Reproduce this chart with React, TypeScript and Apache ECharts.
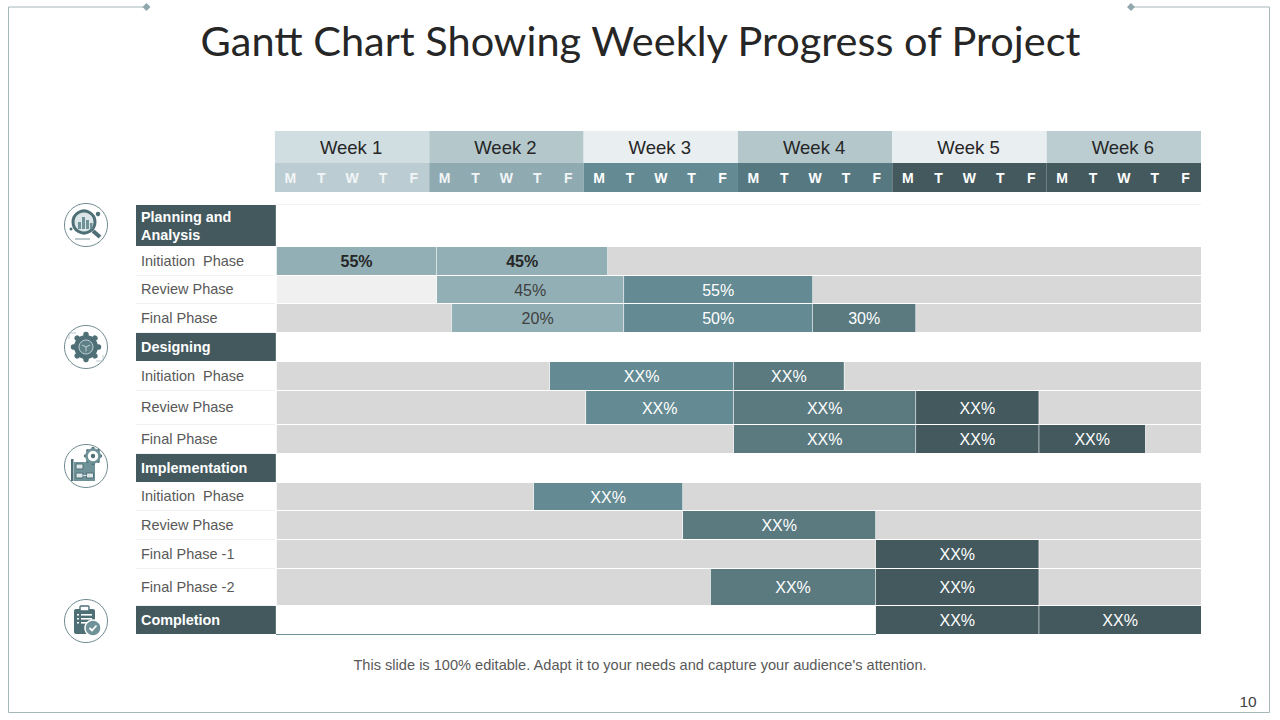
import React, { useEffect, useRef } from "react";
import * as echarts from "echarts";

const titleText = "Gantt Chart Showing Weekly Progress of Project";
const footerText = "This slide is 100% editable. Adapt it to your needs and capture your audience's attention.";
const pageNumber = "10";

const weeks = ["Week 1", "Week 2", "Week 3", "Week 4", "Week 5", "Week 6"];
const weekColors = ["#D1DEE1", "#B4C8CC", "#E9EEF1", "#B4C8CC", "#E9EEF1", "#BBCDD1"];
const weekDayColors = ["#BBCDD3", "#8FAAB1", "#648B93", "#567981", "#44595E", "#44595E"];
const dayNames = ["M", "T", "W", "T", "F"];

const rowNames = [
  "Planning and\nAnalysis", "Initiation  Phase", "Review Phase", "Final Phase",
  "Designing", "Initiation  Phase", "Review Phase", "Final Phase",
  "Implementation", "Initiation  Phase", "Review Phase", "Final Phase -1", "Final Phase -2",
  "Completion",
];
const sectionRows = [0, 4, 8, 13];
const rowSpans = [42, 29, 28, 29, 29, 29, 34, 29, 29, 28, 29, 29, 37, 29];
const headerSpans = [32, 29, 13];

// [row, start day, end day, label, tone]
const LIGHT = "#92AFB5", MID = "#648B93", DEEP = "#5A7A80", DARK = "#43595E";
const tasks: [number, number, number, string, string][] = [
  [1, 0.06, 5.23, "55%", LIGHT], [1, 5.25, 10.77, "45%", LIGHT],
  [2, 5.25, 11.29, "45%", LIGHT], [2, 11.31, 17.41, "55%", MID],
  [3, 5.73, 11.29, "20%", LIGHT], [3, 11.31, 17.41, "50%", MID], [3, 17.43, 20.75, "30%", DEEP],
  [5, 8.91, 14.85, "XX%", MID], [5, 14.87, 18.43, "XX%", DEEP],
  [6, 10.08, 14.85, "XX%", MID], [6, 14.87, 20.75, "XX%", DEEP], [6, 20.77, 24.74, "XX%", DARK],
  [7, 14.87, 20.75, "XX%", DEEP], [7, 20.77, 24.74, "XX%", DARK], [7, 24.76, 28.19, "XX%", DARK],
  [9, 8.39, 13.2, "XX%", MID],
  [10, 13.22, 19.45, "XX%", DEEP],
  [11, 19.47, 24.74, "XX%", DARK],
  [12, 14.12, 19.45, "XX%", DEEP], [12, 19.47, 24.74, "XX%", DARK],
  [13, 19.47, 24.74, "XX%", DARK], [13, 24.76, 30, "XX%", DARK],
];
// [row, start day, end day, fill]
const tracks: [number, number, number, string][] = [
  [1, 10.79, 30, "#D8D8D8"],
  [2, 0.06, 5.23, "#F0F0F0"], [2, 17.43, 30, "#D8D8D8"],
  [3, 0.06, 5.71, "#D8D8D8"], [3, 20.77, 30, "#D8D8D8"],
  [5, 0.06, 8.89, "#D8D8D8"], [5, 18.45, 30, "#D8D8D8"],
  [6, 0.06, 10.06, "#D8D8D8"], [6, 24.76, 30, "#D8D8D8"],
  [7, 0.06, 14.85, "#D8D8D8"], [7, 28.21, 30, "#D8D8D8"],
  [9, 0.06, 8.37, "#D8D8D8"], [9, 13.22, 30, "#D8D8D8"],
  [10, 0.06, 13.2, "#D8D8D8"], [10, 19.47, 30, "#D8D8D8"],
  [11, 0.06, 19.45, "#D8D8D8"], [11, 24.76, 30, "#D8D8D8"],
  [12, 0.06, 14.1, "#D8D8D8"], [12, 24.76, 30, "#D8D8D8"],
];

const headTotal = headerSpans[0] + headerSpans[1] + headerSpans[2];
const rowTops: number[] = [];
rowSpans.reduce((acc, h, i) => { rowTops[i] = acc; return acc + h; }, headTotal);
const total = headTotal + rowSpans.reduce((a, b) => a + b, 0);

const SANS = "'Liberation Sans', Arial, sans-serif";

function rectAt(api: any, x0: number, x1: number, y0: number, y1: number) {
  const a = api.coord([x0, y0]);
  const b = api.coord([x1, y1]);
  return { x: a[0], y: a[1], width: b[0] - a[0], height: b[1] - a[1] };
}

function gearTeeth(cx: number, cy: number, dist: number, size: number, fill: string) {
  const out: any[] = [];
  const dirs = [[0, -1], [0, 1], [-1, 0], [1, 0], [-0.71, -0.71], [0.71, -0.71], [-0.71, 0.71], [0.71, 0.71]];
  for (const [dx, dy] of dirs) {
    out.push({ type: "circle", shape: { cx: cx + dx * dist, cy: cy + dy * dist, r: size }, style: { fill } });
  }
  return out;
}

function iconChildren(kind: number, cx: number, cy: number): any[] {
  const c = "#4F6F76";
  const soft = "#6F9198";
  const base: any[] = [
    { type: "circle", shape: { cx, cy, r: 21.5 }, style: { fill: "#fff", stroke: "#6F8A90", lineWidth: 1 } },
  ];
  if (kind === 0) {
    base.push(
      { type: "line", shape: { x1: cx + 7, y1: cy + 6, x2: cx + 14, y2: cy + 12 }, style: { stroke: c, lineWidth: 4 } },
      { type: "circle", shape: { cx: cx - 2, cy: cy - 3, r: 11 }, style: { fill: "#DCE6E8", stroke: c, lineWidth: 3 } },
      { type: "rect", shape: { x: cx - 8, y: cy - 3, width: 3, height: 7 }, style: { fill: soft } },
      { type: "rect", shape: { x: cx - 4, y: cy - 8, width: 3, height: 12 }, style: { fill: soft } },
      { type: "rect", shape: { x: cx, y: cy - 5, width: 3, height: 9 }, style: { fill: soft } },
      { type: "rect", shape: { x: cx + 4, y: cy - 2, width: 2.5, height: 6 }, style: { fill: soft } },
      { type: "circle", shape: { cx: cx + 12, cy: cy - 11, r: 2.2 }, style: { fill: c } },
      { type: "circle", shape: { cx: cx - 15, cy: cy + 4, r: 1.5 }, style: { fill: c } },
      { type: "line", shape: { x1: cx - 11, y1: cy + 14, x2: cx + 4, y2: cy + 14 }, style: { stroke: "#8FA5AA", lineWidth: 1.2 } },
    );
  } else if (kind === 1) {
    base.push(
      { type: "polyline", shape: { points: [[cx - 17, cy - 8], [cx - 17, cy - 14], [cx - 10, cy - 14]] }, style: { fill: "none", stroke: "#A9BBBF", lineWidth: 0.8 } },
      { type: "polyline", shape: { points: [[cx + 17, cy + 8], [cx + 17, cy + 14], [cx + 10, cy + 14]] }, style: { fill: "none", stroke: "#A9BBBF", lineWidth: 0.8 } },
      ...gearTeeth(cx, cy, 12.5, 2.8, c),
      { type: "circle", shape: { cx, cy, r: 12 }, style: { fill: c } },
      { type: "circle", shape: { cx, cy, r: 7 }, style: { fill: "#5F8087", stroke: "#BFD0D3", lineWidth: 1 } },
      { type: "polyline", shape: { points: [[cx - 4, cy - 2], [cx, cy], [cx + 4, cy - 2]] }, style: { fill: "none", stroke: "#BFD0D3", lineWidth: 1 } },
      { type: "line", shape: { x1: cx, y1: cy, x2: cx, y2: cy + 4.5 }, style: { stroke: "#BFD0D3", lineWidth: 1 } },
    );
  } else if (kind === 2) {
    base.push(
      { type: "rect", shape: { x: cx - 15, y: cy - 7, width: 2.5, height: 22 }, style: { fill: c } },
      { type: "rect", shape: { x: cx - 12, y: cy - 4, width: 21, height: 19 }, style: { fill: soft } },
      { type: "rect", shape: { x: cx - 10, y: cy - 2, width: 7, height: 5 }, style: { fill: "#DCE6E8", stroke: c, lineWidth: 1 } },
      { type: "rect", shape: { x: cx - 10, y: cy + 7, width: 7, height: 5 }, style: { fill: "#DCE6E8", stroke: c, lineWidth: 1 } },
      { type: "rect", shape: { x: cx + 0.5, y: cy + 7, width: 7, height: 5 }, style: { fill: "#DCE6E8", stroke: c, lineWidth: 1 } },
      { type: "line", shape: { x1: cx - 3, y1: cy + 9.5, x2: cx + 0.5, y2: cy + 9.5 }, style: { stroke: "#DCE6E8", lineWidth: 1 } },
      ...gearTeeth(cx + 7, cy - 10, 7.5, 1.6, c),
      { type: "circle", shape: { cx: cx + 7, cy: cy - 10, r: 6.5 }, style: { fill: "#fff", stroke: soft, lineWidth: 2.5 } },
      { type: "circle", shape: { cx: cx + 7, cy: cy - 10, r: 2.2 }, style: { fill: c } },
    );
  } else {
    base.push(
      { type: "rect", shape: { x: cx - 12, y: cy - 12, width: 21, height: 25, r: 2 }, style: { fill: c } },
      { type: "rect", shape: { x: cx - 6, y: cy - 15, width: 9, height: 5, r: 1 }, style: { fill: "#fff", stroke: c, lineWidth: 1.4 } },
      { type: "rect", shape: { x: cx - 5, y: cy - 7, width: 11, height: 1.6 }, style: { fill: "#fff" } },
      { type: "rect", shape: { x: cx - 5, y: cy - 3, width: 11, height: 1.6 }, style: { fill: "#fff" } },
      { type: "rect", shape: { x: cx - 5, y: cy + 1, width: 6, height: 1.6 }, style: { fill: "#fff" } },
      { type: "rect", shape: { x: cx - 9, y: cy - 7, width: 2, height: 1.6 }, style: { fill: "#fff" } },
      { type: "rect", shape: { x: cx - 9, y: cy - 3, width: 2, height: 1.6 }, style: { fill: "#fff" } },
      { type: "rect", shape: { x: cx - 9, y: cy + 1, width: 2, height: 1.6 }, style: { fill: "#fff" } },
      { type: "circle", shape: { cx: cx + 7, cy: cy + 7, r: 8 }, style: { fill: soft, stroke: "#fff", lineWidth: 1.5 } },
      { type: "polyline", shape: { points: [[cx + 3.5, cy + 7], [cx + 6, cy + 9.5], [cx + 10.5, cy + 4.5]] }, style: { fill: "none", stroke: "#fff", lineWidth: 1.8 } },
    );
  }
  return base;
}

export default function App() {
  const ref = useRef<HTMLDivElement>(null);
  useEffect(() => {
    document.body.style.margin = "0";
    const chart = echarts.init(ref.current!, null, { renderer: "svg" });

    const headerSeries = {
      type: "custom", silent: true, coordinateSystem: "cartesian2d", clip: false,
      data: weeks.map((_, i) => [i]),
      renderItem: (p: any, api: any) => {
        const i = api.value(0);
        const x0 = i * 5, x1 = x0 + 5;
        const wk = rectAt(api, x0, x1, 0, headerSpans[0]);
        const dy = rectAt(api, x0, x1, headerSpans[0], headerSpans[0] + headerSpans[1]);
        const children: any[] = [
          { type: "rect", shape: wk, style: { fill: weekColors[i] } },
          { type: "rect", shape: dy, style: { fill: weekDayColors[i] } },
          { type: "text", style: { x: wk.x + wk.width / 2 - 1, y: wk.y + wk.height / 2 + 0.5, text: weeks[i], fill: "#262626", font: `18.5px ${SANS}`, align: "center", verticalAlign: "middle" } },
        ];
        dayNames.forEach((d, k) => {
          const cx = api.coord([x0 + k + 0.5, 0])[0];
          children.push({ type: "text", style: { x: cx, y: dy.y + dy.height / 2, text: d, fill: i < 2 ? "#F2F5F6" : "#FFFFFF", font: `bold 14px ${SANS}`, align: "center", verticalAlign: "middle" } });
        });
        return { type: "group", children };
      },
    };

    const labelSeries = {
      type: "custom", silent: true, clip: false,
      data: rowNames.map((_, i) => [i]),
      renderItem: (p: any, api: any) => {
        const i = api.value(0);
        const isSection = sectionRows.includes(i);
        const r = rectAt(api, -4.5, 0.03, rowTops[i], rowTops[i] + rowSpans[i] - 1);
        const children: any[] = [];
        if (isSection) children.push({ type: "rect", shape: r, style: { fill: "#43595E" } });
        else {
          const e = api.coord([0, rowTops[i] + rowSpans[i] - 0.5]);
          children.push({ type: "line", shape: { x1: r.x, y1: e[1], x2: e[0], y2: e[1] }, style: { stroke: "#F2F2F2", lineWidth: 1 } });
        }
        children.push({
          type: "text",
          style: { x: r.x + 5, y: r.y + r.height / 2 + (i === 0 ? 0.5 : -0.5), text: rowNames[i], fill: isSection ? "#FFFFFF" : "#595959", font: isSection ? `bold 14.4px ${SANS}` : `14.5px ${SANS}`, align: "left", verticalAlign: "middle", lineHeight: 18 },
        });
        return { type: "group", children };
      },
    };

    const trackSeries = {
      type: "custom", silent: true, clip: false,
      data: tracks.map((t, i) => [t[1], t[2], t[0], i]),
      renderItem: (p: any, api: any) => {
        const row = api.value(2);
        const t = tracks[api.value(3)];
        return { type: "rect", shape: rectAt(api, api.value(0), api.value(1), rowTops[row], rowTops[row] + rowSpans[row] - 1), style: { fill: t[3] } };
      },
    };

    const taskSeries = {
      type: "custom", silent: true, clip: false,
      data: tasks.map((t, i) => [t[1], t[2], t[0], i]),
      renderItem: (p: any, api: any) => {
        const row = api.value(2);
        const t = tasks[api.value(3)];
        const r = rectAt(api, api.value(0), api.value(1), rowTops[row], rowTops[row] + rowSpans[row] - 1);
        const bold = row === 1;
        const dark = t[4] === LIGHT;
        return {
          type: "group",
          children: [
            { type: "rect", shape: r, style: { fill: t[4] } },
            { type: "text", style: { x: r.x + r.width / 2, y: r.y + r.height / 2 + 0.5, text: t[3], fill: bold ? "#262626" : dark ? "#3F3F3F" : "#FFFFFF", font: `${bold ? "bold " : ""}16px ${SANS}`, align: "center", verticalAlign: "middle" } },
          ],
        };
      },
    };

    const frameColor = "#A6B7BA";
    const option: any = {
      animation: false,
      grid: { left: 136, right: 79, top: 131, bottom: 720 - 131 - total, containLabel: false },
      xAxis: { type: "value", min: -4.5, max: 30, show: false },
      yAxis: { type: "value", min: 0, max: total, inverse: true, show: false },
      series: [headerSeries, trackSeries, taskSeries, labelSeries],
      graphic: [
        { type: "polyline", silent: true, shape: { points: [[146, 7], [8.5, 7], [8.5, 712.5], [1269.5, 712.5], [1269.5, 7], [1131, 7]] }, style: { fill: "none", stroke: frameColor, lineWidth: 1 } },
        { type: "polygon", silent: true, shape: { points: [[146.5, 3], [150.5, 7], [146.5, 11], [142.5, 7]] }, style: { fill: "#8FA7AD" } },
        { type: "polygon", silent: true, shape: { points: [[1131, 3], [1135, 7], [1131, 11], [1127, 7]] }, style: { fill: "#8FA7AD" } },
        { type: "text", silent: true, style: { x: 640.5, y: 40, text: titleText, fill: "#262626", font: "41.5px Lato, sans-serif", align: "center", verticalAlign: "middle" } },
        { type: "text", silent: true, style: { x: 640, y: 665, text: footerText, fill: "#595959", font: `14.6px ${SANS}`, align: "center", verticalAlign: "middle" } },
        { type: "text", silent: true, style: { x: 1248, y: 701, text: pageNumber, fill: "#404040", font: `15.5px ${SANS}`, align: "center", verticalAlign: "middle" } },
        { type: "line", silent: true, shape: { x1: 275, y1: 204.5, x2: 1201, y2: 204.5 }, style: { stroke: "#F2F2F2", lineWidth: 1 } },
        { type: "line", silent: true, shape: { x1: 276, y1: 634.5, x2: 876, y2: 634.5 }, style: { stroke: "#6F929A", lineWidth: 1 } },
        { type: "group", silent: true, children: iconChildren(0, 86, 225) },
        { type: "group", silent: true, children: iconChildren(1, 86, 347) },
        { type: "group", silent: true, children: iconChildren(2, 86, 466) },
        { type: "group", silent: true, children: iconChildren(3, 86, 621) },
      ],
    };
    chart.setOption(option);
    return () => chart.dispose();
  }, []);
  return <div ref={ref} style={{ width: 1280, height: 720, position: "absolute", left: 0, top: 0, background: "#fff" }} />;
}
